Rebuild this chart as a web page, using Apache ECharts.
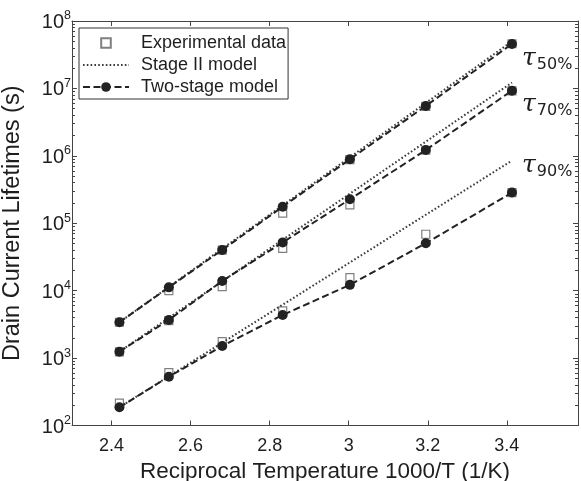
<!DOCTYPE html>
<html><head><meta charset="utf-8">
<script src="https://cdn.jsdelivr.net/npm/echarts@6/dist/echarts.min.js"></script>
<style>html,body{margin:0;padding:0;background:#fff}#c{width:581px;height:481px}</style>
</head><body><div id="c"></div><script>
// ---- data ----
const xValues = [2.42, 2.545, 2.68, 2.833, 3.003, 3.195, 3.413];
const expTau50 = [3400, 10000, 40000, 141000, 880000, 5.4e6, 4.6e7];
const expTau70 = [1240, 3600, 11500, 42500, 187000, 1.21e6, 9.2e6];
const expTau90 = [215, 607, 1750, 5000, 15600, 68700, 2.85e5];
const twoStageTau50 = [3400, 11200, 40200, 176000, 890000, 5.5e6, 4.57e7];
const twoStageTau70 = [1245, 3680, 13900, 52000, 227000, 1.22e6, 9.27e6];
const twoStageTau90 = [186, 530, 1510, 4360, 12200, 50500, 2.85e5];
const stageIIx = [2.42, 3.413];
const stageIITau50 = [3400, 5.0e7];
const stageIITau70 = [1245, 1.22e7];
const stageIITau90 = [186, 8.5e5];
const tauLabels = ['50%', '70%', '90%'];
const xTicks = [2.4, 2.6, 2.8, 3, 3.2, 3.4];
const yDecades = [1e2, 1e3, 1e4, 1e5, 1e6, 1e7, 1e8];
const yMinor = [];
for (let d = 2; d < 8; d++) for (let k = 2; k <= 9; k++) yMinor.push(k * Math.pow(10, d));

const pair = (xs, ys) => xs.map((x, i) => [x, ys[i]]);
const INK = '#1e1e1e';
const FONT = 'Liberation Sans, Arial, sans-serif';

const chart = echarts.init(document.getElementById('c'), null, {renderer: 'canvas'});

function expSeries(ys) {
  return {
    type: 'line', name: 'Experimental data', data: pair(xValues, ys),
    xAxisIndex: 0, yAxisIndex: 0,
    symbol: 'rect', symbolSize: 8, showSymbol: true,
    lineStyle: {width: 0, opacity: 0},
    itemStyle: {color: '#fff', borderColor: '#808080', borderWidth: 1.2},
    z: 2, silent: true, animation: false
  };
}
function stageSeries(ys, lab, off) {
  return {
    type: 'line', name: 'Stage II model', data: pair(stageIIx, ys),
    xAxisIndex: 0, yAxisIndex: 0,
    symbol: 'none', showSymbol: false,
    lineStyle: {color: '#3a3a3a', width: 2, type: [1.6, 2.2], cap: 'butt'},
    itemStyle: {color: '#3a3a3a'},
    endLabel: {
      show: true, distance: 0, offset: off,
      formatter: () => '{t|τ}{s|' + lab + '}',
      rich: {
        t: {fontFamily: 'DejaVu Serif', fontStyle: 'italic', fontSize: 25, color: INK, verticalAlign: 'bottom'},
        s: {fontFamily: 'DejaVu Sans', fontSize: 16, color: INK, verticalAlign: 'bottom', padding: [0, 0, -2, 1]}
      }
    },
    z: 3, silent: true, animation: false
  };
}
function twoSeries(ys) {
  return {
    type: 'line', name: 'Two-stage model', data: pair(xValues, ys),
    xAxisIndex: 0, yAxisIndex: 0,
    symbol: 'circle', symbolSize: 10, showSymbol: true,
    lineStyle: {color: '#222', width: 2, type: [7, 3.5], cap: 'butt'},
    itemStyle: {color: '#222'},
    z: 4, silent: true, animation: false
  };
}

const baseY = {
  type: 'log', logBase: 10, min: 100, max: 1e8,
  splitLine: {show: false}, minorSplitLine: {show: false}
};
const baseX = {type: 'value', min: 2.3, max: 3.58, splitLine: {show: false}};

chart.setOption({
  animation: false,
  backgroundColor: '#fff',
  grid: {left: 72, right: 3, top: 21, bottom: 55.5, containLabel: false, outerBoundsMode: 'none'},
  legend: {
    orient: 'vertical', left: 79, top: 28,
    data: [
      {name: 'Experimental data'},
      {name: 'Stage II model', itemStyle: {opacity: 0}},
      {name: 'Two-stage model'}
    ],
    itemWidth: 46, itemHeight: 12, itemGap: 4,
    padding: [6, 2, 3, 3],
    backgroundColor: '#fff', borderColor: '#333', borderWidth: 1,
    textStyle: {fontFamily: FONT, fontSize: 18, color: INK, padding: [0, 0, 0, 7], width: 152},
    selectedMode: false
  },
  xAxis: [
    Object.assign({}, baseX, {
      position: 'bottom',
      name: 'Reciprocal Temperature 1000/T (1/K)', nameLocation: 'middle', nameGap: 32,
      nameTextStyle: {fontFamily: FONT, fontSize: 22.5, color: INK},
      axisLine: {show: true, lineStyle: {color: '#444', width: 1}},
      axisTick: {show: true, inside: true, length: 5, customValues: xTicks, lineStyle: {color: '#444'}},
      axisLabel: {show: true, customValues: xTicks, margin: 12, fontFamily: FONT, fontSize: 18, color: INK,
        formatter: v => String(v)}
    }),
    Object.assign({}, baseX, {
      position: 'top',
      axisLine: {show: true, lineStyle: {color: '#444', width: 1}},
      axisTick: {show: true, inside: true, length: 5, customValues: xTicks, lineStyle: {color: '#444'}},
      axisLabel: {show: false}
    })
  ],
  yAxis: [
    Object.assign({}, baseY, {
      position: 'left',
      name: 'Drain Current Lifetimes (s)', nameLocation: 'middle', nameGap: 47, nameRotate: 90,
      nameTextStyle: {fontFamily: FONT, fontSize: 23.5, color: INK},
      axisLine: {show: true, lineStyle: {color: '#444', width: 1}},
      axisTick: {show: true, inside: true, length: 5, customValues: yDecades, lineStyle: {color: '#444'}},
      axisLabel: {
        show: true, customValues: yDecades, margin: 1,
        formatter: v => '{b|10}{e|' + Math.round(Math.log10(v)) + '}',
        rich: {
          b: {fontFamily: FONT, fontSize: 20, color: INK, verticalAlign: 'bottom'},
          e: {fontFamily: FONT, fontSize: 12.5, color: INK, verticalAlign: 'bottom', padding: [0, 0, 10, 0]}
        }
      }
    }),
    Object.assign({}, baseY, {
      position: 'left',
      axisLine: {show: false},
      axisTick: {show: true, inside: true, length: 3, customValues: yMinor, lineStyle: {color: '#444'}},
      axisLabel: {show: false}
    }),
    Object.assign({}, baseY, {
      position: 'right',
      axisLine: {show: true, lineStyle: {color: '#444', width: 1}},
      axisTick: {show: true, inside: true, length: 5, customValues: yDecades, lineStyle: {color: '#444'}},
      axisLabel: {show: false}
    }),
    Object.assign({}, baseY, {
      position: 'right',
      axisLine: {show: false},
      axisTick: {show: true, inside: true, length: 3, customValues: yMinor, lineStyle: {color: '#444'}},
      axisLabel: {show: false}
    })
  ],
  series: [
    expSeries(expTau50), expSeries(expTau70), expSeries(expTau90),
    stageSeries(stageIITau50, tauLabels[0], [10, 17]),
    stageSeries(stageIITau70, tauLabels[1], [10, 22]),
    stageSeries(stageIITau90, tauLabels[2], [10, 5]),
    twoSeries(twoStageTau50), twoSeries(twoStageTau70), twoSeries(twoStageTau90)
  ]
});
</script></body></html>
